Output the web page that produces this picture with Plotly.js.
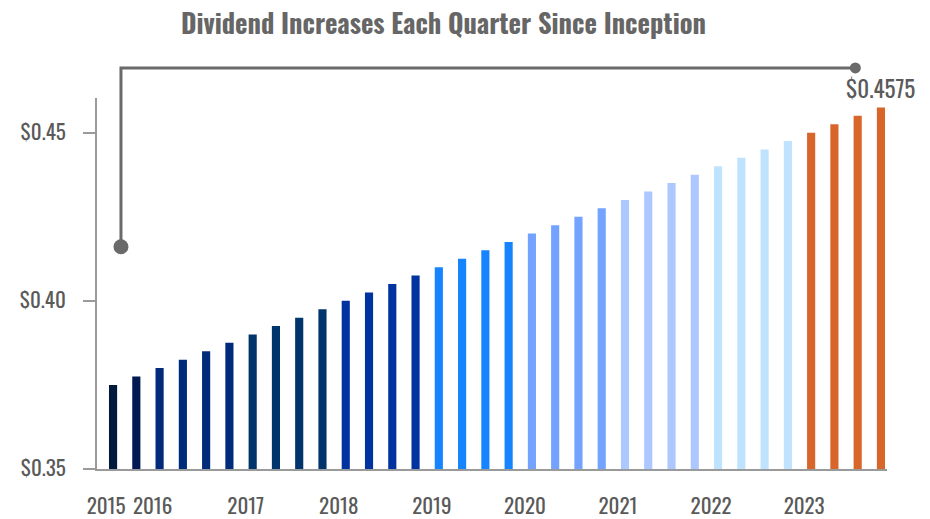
<!DOCTYPE html>
<html><head><meta charset="utf-8">
<script src="https://cdn.plot.ly/plotly-3.0.1.min.js"></script>
<style>html,body{margin:0;padding:0;background:#fff}#chart{width:930px;height:519px}</style>
</head><body><div id="chart"></div>
<script>
const years = ['2015','2015',
  '2016','2016','2016','2016',
  '2017','2017','2017','2017',
  '2018','2018','2018','2018',
  '2019','2019','2019','2019',
  '2020','2020','2020','2020',
  '2021','2021','2021','2021',
  '2022','2022','2022','2022',
  '2023','2023','2023','2023'];
const quarters = ['Q3','Q4',
  'Q1','Q2','Q3','Q4','Q1','Q2','Q3','Q4','Q1','Q2','Q3','Q4','Q1','Q2','Q3','Q4',
  'Q1','Q2','Q3','Q4','Q1','Q2','Q3','Q4','Q1','Q2','Q3','Q4','Q1','Q2','Q3','Q4'];
const dividends = [0.3750,0.3775,
  0.3800,0.3825,0.3850,0.3875,
  0.3900,0.3925,0.3950,0.3975,
  0.4000,0.4025,0.4050,0.4075,
  0.4100,0.4125,0.4150,0.4175,
  0.4200,0.4225,0.4250,0.4275,
  0.4300,0.4325,0.4350,0.4375,
  0.4400,0.4425,0.4450,0.4475,
  0.4500,0.4525,0.4550,0.4575];
const yTickVals = [0.35, 0.40, 0.45];
const yTickText = ['$0.35', '$0.40', '$0.45'];
const latestLabel = '$0.4575';
const titleText = 'Dividend Increases Each Quarter Since Inception';

const yearColor = {'2016':'#002a7a','2017':'#00356b','2018':'#0033a0','2019':'#1683ff',
  '2020':'#74a2ff','2021':'#adc7ff','2022':'#bfe3ff','2023':'#d8652a'};
const colors = years.map((y,i)=> i===0 ? '#021b3c' : (i===1 ? '#011a52' : yearColor[y]));

const idx = dividends.map((_,i)=>i);
const tickVals = [], tickText = [];
years.forEach((y,i)=>{ if(i===0 || years[i-1]!==y){ tickVals.push(i-0.3); tickText.push(y);} });

const FONT = "Oswald, 'Roboto Condensed', 'Liberation Sans Narrow', 'DejaVu Sans Condensed', sans-serif";
const last = dividends.length-1;

const trace = {
  type:'bar', x:idx, y:dividends, width:0.35,
  marker:{color:colors, line:{width:0}},
  text: years.map((y,i)=>y+' '+quarters[i]), hoverinfo:'text+y', textposition:'none'
};

const layout = {
  width:930, height:519,
  margin:{l:97, r:43, t:98, b:50},
  paper_bgcolor:'#fff', plot_bgcolor:'#fff',
  showlegend:false,
  font:{family:FONT, color:'#5a5a5a'},
  xaxis:{range:[-0.69,33.26], tickvals:tickVals, ticktext:tickText, showgrid:false, zeroline:false,
    showline:true, linecolor:'#9a9a9a', linewidth:2, ticks:'', tickfont:{size:21, color:'#5a5a5a'},
    ticklabelstandoff:18, fixedrange:true},
  yaxis:{range:[0.35,0.4603], tickvals:yTickVals, ticktext:yTickText, showgrid:false, zeroline:false,
    showline:true, linecolor:'#9a9a9a', linewidth:2, ticks:'outside', ticklen:12, tickwidth:2, tickcolor:'#9a9a9a',
    tickfont:{size:21, color:'#5a5a5a'}, ticklabelstandoff:13, fixedrange:true},
  annotations:[
    {xref:'paper', yref:'paper', x:(443-97)/790, y:(469-22)/371, text:'<b>'+titleText+'</b>', showarrow:false,
     xanchor:'center', yanchor:'middle', font:{size:26.5, color:'#666666', family:FONT}},
    {x:last, y:dividends[last], xref:'x', yref:'y', text:latestLabel, showarrow:false, xanchor:'center', yanchor:'bottom',
     yshift:0, font:{size:23, color:'#5a5a5a', family:FONT}}
  ],
  shapes:[
    {type:'path', xref:'x', yref:'paper', path:'M 0.34,0.599 L 0.34,1.081 L 31.9,1.081', line:{color:'#6a6a6a', width:3}},
    {type:'circle', xref:'x', yref:'paper', xsizemode:'pixel', ysizemode:'pixel', xanchor:0.34, yanchor:0.599,
     x0:-7.5, x1:7.5, y0:-7.5, y1:7.5, fillcolor:'#6a6a6a', line:{width:0}},
    {type:'circle', xref:'x', yref:'paper', xsizemode:'pixel', ysizemode:'pixel', xanchor:31.9, yanchor:1.081,
     x0:-5.5, x1:5.5, y0:-5.5, y1:5.5, fillcolor:'#6a6a6a', line:{width:0}}
  ]
};
Plotly.newPlot('chart',[trace],layout,{displayModeBar:false, staticPlot:true});
</script></body></html>
